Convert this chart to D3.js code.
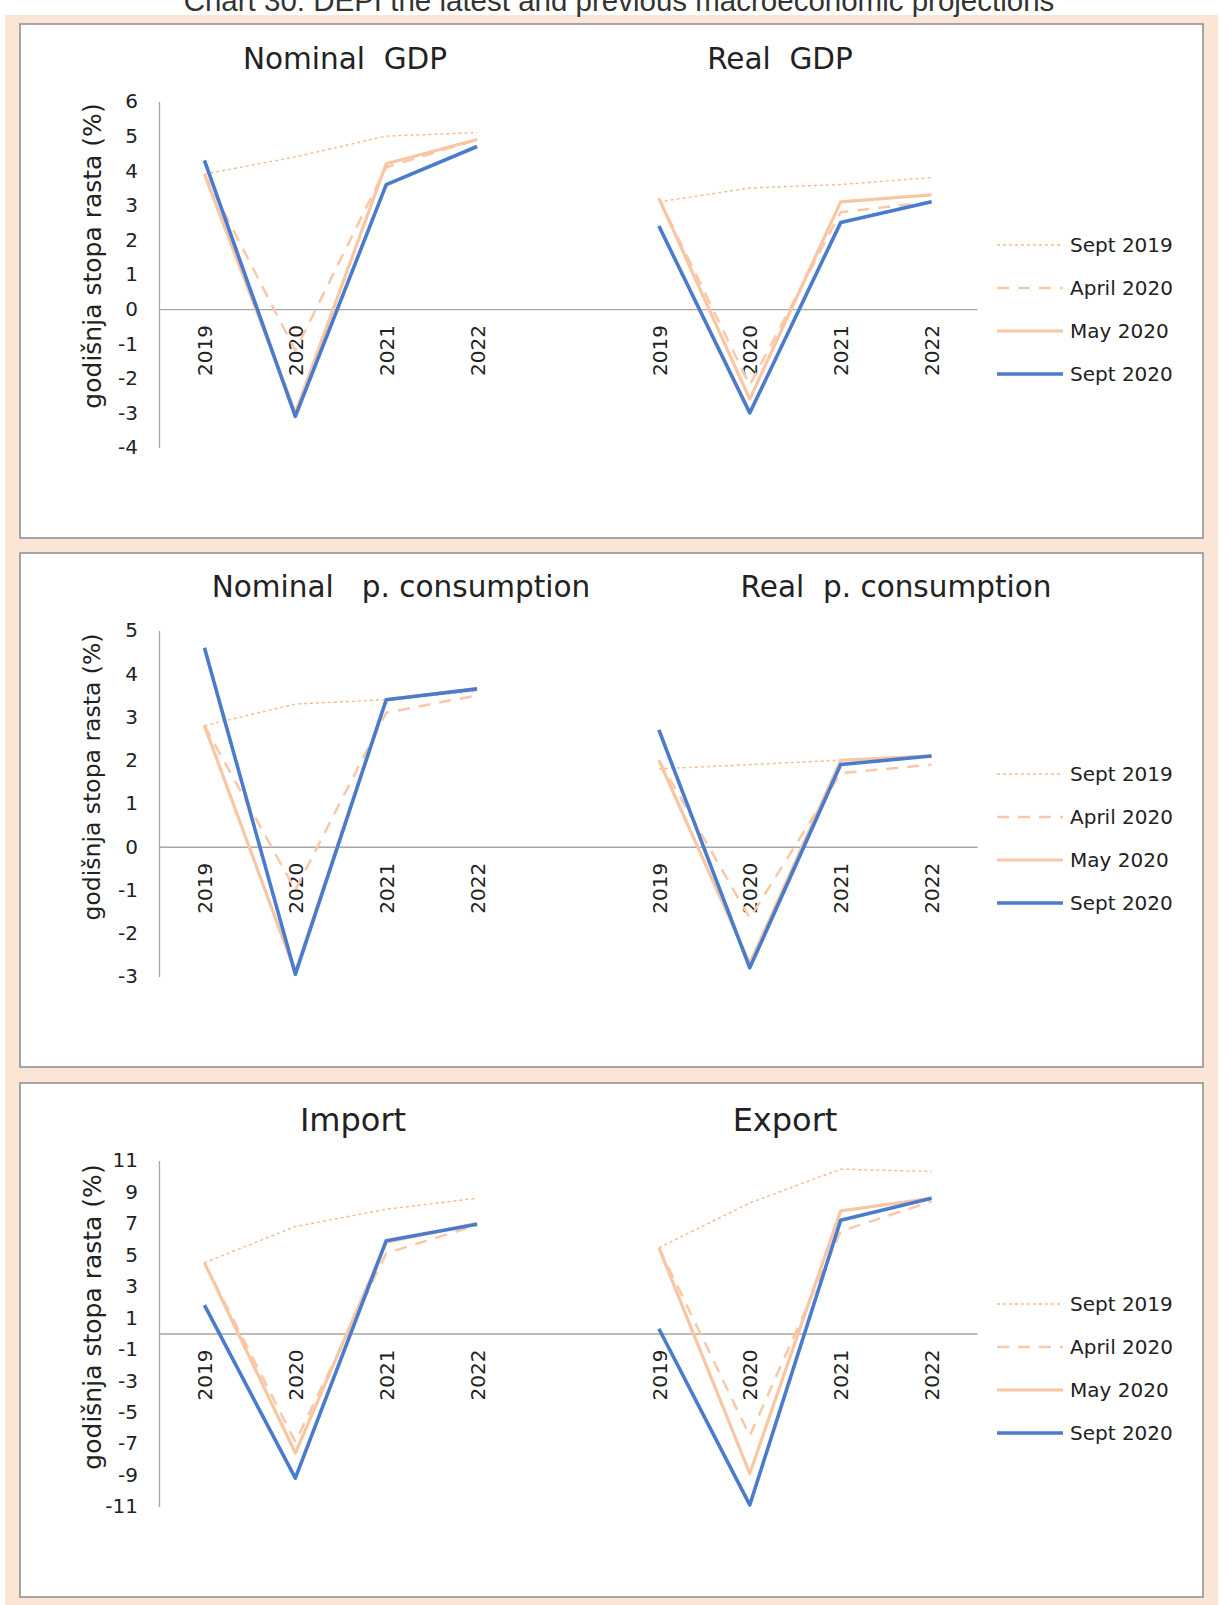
<!DOCTYPE html>
<html>
<head>
<meta charset="utf-8">
<script src="https://cdn.jsdelivr.net/npm/d3@7"></script>
<style>
  body { margin: 0; background: #fff; }
  svg { display: block; }
  text { font-family: "DejaVu Sans", Verdana, sans-serif; fill: #222; }
</style>
</head>
<body>
<div id="chart"></div>
<script>
// categories and series
const years = ["2019", "2020", "2021", "2022"];
const seriesNames = ["Sept 2019", "April 2020", "May 2020", "Sept 2020"];

// values per chart, rows in the order of seriesNames
const nominalGdp = [[3.9, 4.4, 5.0, 5.1], [3.9, -1.2, 4.1, 4.9], [3.9, -3.0, 4.2, 4.9], [4.3, -3.1, 3.6, 4.7]];
const realGdp = [[3.1, 3.5, 3.6, 3.8], [3.2, -2.2, 2.8, 3.1], [3.2, -2.6, 3.1, 3.3], [2.4, -3.0, 2.5, 3.1]];
const nominalCons = [[2.8, 3.3, 3.4, 3.6], [2.8, -1.0, 3.1, 3.5], [2.8, -2.9, 3.4, 3.65], [4.6, -2.95, 3.4, 3.65]];
const realCons = [[1.8, 1.9, 2.0, 2.1], [2.0, -1.65, 1.7, 1.9], [2.0, -2.7, 2.0, 2.1], [2.7, -2.8, 1.9, 2.1]];
const imports = [[4.5, 6.8, 7.9, 8.6], [4.5, -6.9, 5.1, 6.9], [4.5, -7.6, 5.8, 7.0], [1.8, -9.2, 5.9, 6.95]];
const exports = [[5.45, 8.3, 10.45, 10.3], [5.45, -6.5, 6.5, 8.4], [5.45, -8.9, 7.8, 8.6], [0.3, -10.9, 7.2, 8.6]];

// tick labels
const ticksGdp = [-4, -3, -2, -1, 0, 1, 2, 3, 4, 5, 6];
const ticksCons = [-3, -2, -1, 0, 1, 2, 3, 4, 5];
const ticksTrade = [-11, -9, -7, -5, -3, -1, 1, 3, 5, 7, 9, 11];

const chartTitle = "Chart 30: DEPI the latest and previous macroeconomic projections";
const yLabel = "godišnja stopa rasta (%)";

const panels = [
  {titles: ["Nominal  GDP", "Real  GDP"], left: nominalGdp, right: realGdp, ticks: ticksGdp,
   top: 24, titleX: [345, 780], titleY: 58, titleSize: 29.5, labelY: 232, labelSize: 25},
  {titles: ["Nominal   p. consumption", "Real  p. consumption"], left: nominalCons, right: realCons, ticks: ticksCons,
   top: 553, titleX: [401, 896], titleY: 586, titleSize: 29.5, labelY: 224, labelSize: 23.5},
  {titles: ["Import", "Export"], left: imports, right: exports, ticks: ticksTrade,
   top: 1083, titleX: [353, 785], titleY: 1119, titleSize: 32, labelY: 234, labelSize: 25}
];

// line styles for the four projections
const styles = [
  {color: "#f4b98f", width: 1.4, dash: "3,3"},
  {color: "#f8c8a8", width: 2.5, dash: "12,9"},
  {color: "#f8c6a2", width: 3.2, dash: null},
  {color: "#4a7bcc", width: 3.6, dash: null}
];

const W = 1221, H = 1605;
const svg = d3.select("#chart").append("svg").attr("width", W).attr("height", H);

// peach backdrop
svg.append("rect").attr("x", 5).attr("y", 15).attr("width", 1213).attr("height", H - 15)
  .attr("fill", "#fbe5d6");

svg.append("text")
  .attr("x", 619).attr("y", 11)
  .attr("text-anchor", "middle")
  .style("font-family", "'Liberation Sans', Arial, sans-serif")
  .style("font-size", "29.5px")
  .style("fill", "#333")
  .text(chartTitle);

// one slot between the two charts, like the source spreadsheet
const slots = years.map(d => "L" + d).concat(["gap"]).concat(years.map(d => "R" + d));
const x = d3.scalePoint().domain(slots).range([159, 977]).padding(0.5);

const line = d3.line().x(d => x(d.slot)).y(d => d.y);

panels.forEach(p => {
  const g = svg.append("g");
  g.append("rect")
    .attr("x", 20).attr("y", p.top).attr("width", 1183).attr("height", 514)
    .attr("fill", "#fff").attr("stroke", "#8c8c8c").attr("stroke-width", 1.5);

  const y = d3.scaleLinear()
    .domain(d3.extent(p.ticks))
    .range([p.top + 77.5 + 346, p.top + 77.5]);

  // titles
  p.titles.forEach((t, i) => {
    g.append("text")
      .attr("x", p.titleX[i]).attr("y", p.titleY)
      .attr("dy", "0.36em")
      .attr("text-anchor", "middle")
      .style("font-size", p.titleSize + "px")
      .style("white-space", "pre")
      .text(t);
  });

  // y axis
  const yAxisG = g.append("g")
    .attr("transform", "translate(159,0)")
    .call(d3.axisLeft(y).tickValues(p.ticks).tickSize(0).tickPadding(21).tickFormat(d => String(d)));
  yAxisG.select(".domain").attr("stroke", "#a6a6a6").attr("stroke-width", 1.3);
  yAxisG.selectAll("text").style("font-size", "20px").style("font-family", "'DejaVu Sans', sans-serif").attr("fill", "#222");

  g.append("text")
    .attr("transform", `translate(92,${p.top + p.labelY}) rotate(-90)`)
    .attr("text-anchor", "middle")
    .attr("dy", "0.36em")
    .style("font-size", p.labelSize + "px")
    .text(yLabel);

  // x axis sits on zero
  const xAxisG = g.append("g")
    .attr("transform", `translate(0,${y(0)})`)
    .call(d3.axisBottom(x).tickSize(0).tickSizeOuter(0).tickFormat(d => d === "gap" ? "" : d.slice(1)));
  xAxisG.select(".domain").attr("stroke", "#a6a6a6").attr("stroke-width", 1.3);
  xAxisG.selectAll("text")
    .attr("y", 0).attr("x", -16).attr("dy", "0.36em")
    .attr("transform", "rotate(-90)")
    .style("text-anchor", "end")
    .style("font-size", "20px")
    .style("font-family", "'DejaVu Sans', sans-serif")
    .attr("fill", "#222");

  // lines, Sept 2020 drawn last so it sits on top
  seriesNames.forEach((name, si) => {
    [["L", p.left], ["R", p.right]].forEach(([side, rows]) => {
      const pts = years.map((yr, k) => ({slot: side + yr, y: y(rows[si][k])}));
      g.append("path")
        .datum(pts)
        .attr("d", line)
        .attr("fill", "none")
        .attr("stroke", styles[si].color)
        .attr("stroke-width", styles[si].width)
        .attr("stroke-dasharray", styles[si].dash)
        .attr("stroke-linejoin", "round");
    });
  });

  // legend
  const lg = g.append("g").attr("transform", `translate(997,${p.top + 221})`);
  seriesNames.forEach((name, si) => {
    const row = lg.append("g").attr("transform", `translate(0,${si * 43})`);
    row.append("line")
      .attr("x1", 0).attr("x2", 66).attr("y1", 0).attr("y2", 0)
      .attr("stroke", styles[si].color)
      .attr("stroke-width", styles[si].width)
      .attr("stroke-dasharray", styles[si].dash);
    row.append("text")
      .attr("x", 73).attr("dy", "0.36em")
      .style("font-size", "20px")
      .text(name);
  });
});
</script>
</body>
</html>
